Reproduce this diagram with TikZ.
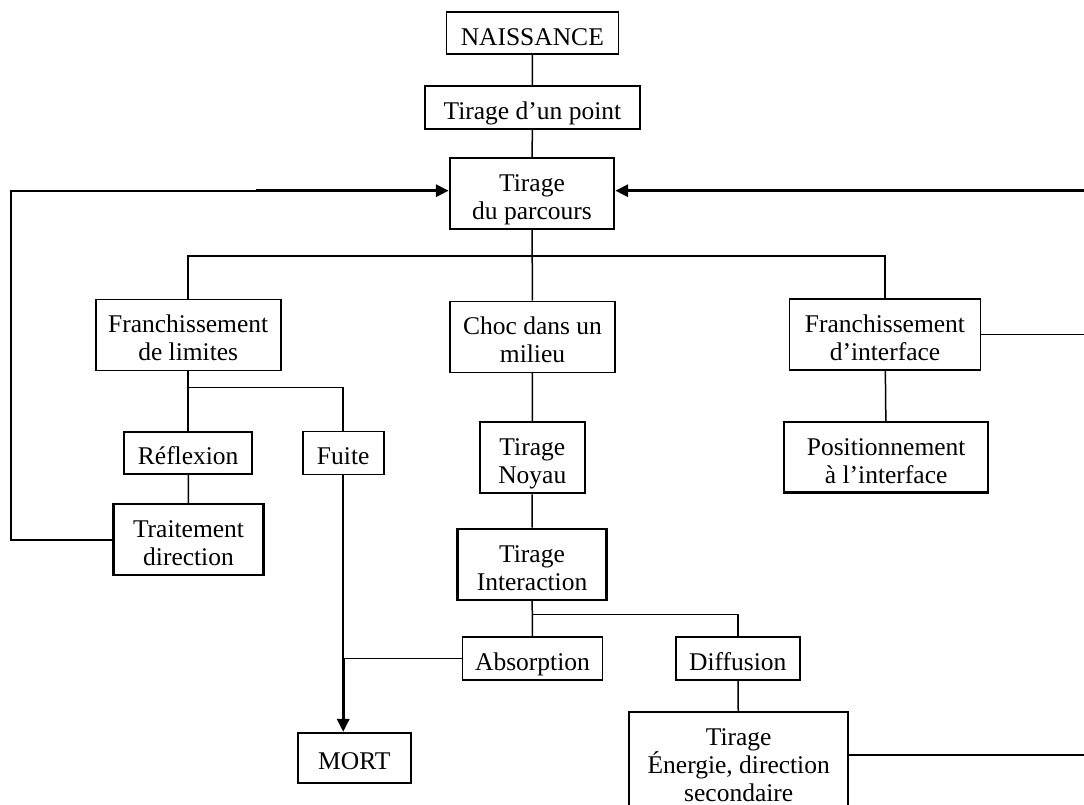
\documentclass[tikz,border=0pt]{standalone}
\usepackage{fontspec}
\setmainfont{Liberation Serif}
\usetikzlibrary{arrows.meta}
\newcommand{\lh}{\rule{0pt}{29.9pt}}
\newcommand{\lb}{\rule[-6pt]{0pt}{6pt}}

\begin{document}
\begin{tikzpicture}[x=1pt,y=-1pt,
	boite/.style={draw,line width=1.6pt,align=center,inner sep=3pt,font=\fontsize{25.5}{28.3}\selectfont},
	boiteE/.style={boite,line width=2.4pt},
	lien/.style={line width=1.5pt},
	fleche/.style={line width=3.2pt,-{Triangle[length=13pt,width=12pt]}}]
	\useasboundingbox (0,0) rectangle (1084,805);
	\clip (0,0) rectangle (1084,805);
	% colonne centrale
	\node[boite,minimum width=172,minimum height=42] (naissance) at (532.3,33.3) {\lh NAISSANCE\lb};
	\node[boiteE,minimum width=215,minimum height=43] (point) at (532.4,107.5) {\lh Tirage d’un point\lb};
	\node[boiteE,minimum width=164,minimum height=71] (parcours) at (532,193.5) {\lh Tirage\\du parcours\lb};
	\node[boite,minimum width=165,minimum height=71] (choc) at (532.5,336.8) {\lh Choc dans un\\milieu\lb};
	\node[boiteE,minimum width=105,minimum height=71] (noyau) at (532.3,457.7) {\lh Tirage\\Noyau\lb};
	\node[boiteE,minimum width=149,minimum height=71] (interaction) at (532,564.2) {\lh Tirage\\Interaction\lb};
	\node[boite,minimum width=140,minimum height=43] (absorption) at (532.5,658.7) {\lh Absorption\lb};
	\node[boite,minimum width=124,minimum height=43] (diffusion) at (737.8,658.7) {\lh Diffusion\lb};
	\node[boiteE,anchor=north,minimum width=219] (energie) at (738.7,711) {\lh Tirage\\Énergie, direction\\secondaire\lb};
	% branche gauche
	\node[boite,minimum width=185,minimum height=71] (limites) at (188.2,334.8) {\lh Franchissement\\de limites\lb};
	\node[boite,minimum width=128,minimum height=42] (reflexion) at (188.2,452.7) {\lh Réflexion\lb};
	\node[boite,minimum width=81,minimum height=43] (fuite) at (343.2,453) {\lh Fuite\lb};
	\node[boiteE,minimum width=150,minimum height=71] (traitement) at (188.5,539.7) {\lh Traitement\\direction\lb};
	\node[boite,minimum width=113,minimum height=50] (mort) at (354.3,757.7) {\lh MORT\lb};
	% branche droite
	\node[boite,minimum width=191,minimum height=71] (interface) at (885,334.5) {\lh Franchissement\\d’interface\lb};
	\node[boiteE,minimum width=204,minimum height=70] (position) at (886.2,457.2) {\lh Positionnement\\à l’interface\lb};

	\coordinate (brancheP) at (532,256);
	\coordinate (brancheL) at (188.2,387.7);
	\coordinate (brancheI) at (532,614.3);
	\coordinate (retourG) at (11,190.7);
	\coordinate (flecheG) at (256,190.7);
	\coordinate (bordH) at (1084,190.7);
	\coordinate (jonction) at (fuite.south |- absorption.west);
	\coordinate (sortieE) at ([yshift=-44pt]energie.north east);

	\draw[lien] (naissance) -- (point);
	\draw[lien] (point) -- (parcours);
	\draw[lien] (parcours) -- (choc);
	\draw[lien] (limites.north) |- (brancheP) -| (interface.north);
	\draw[lien] (choc) -- (noyau);
	\draw[lien] (noyau) -- (interaction);
	\draw[lien] (interaction) -- (absorption);
	\draw[lien] (brancheI) -| (diffusion.north);
	\draw[lien] (diffusion) -- (energie);
	\draw[lien] (limites) -- (reflexion);
	\draw[lien] (brancheL) -| (fuite.north);
	\draw[lien] (reflexion) -- (traitement);
	\draw[lien] (interface) -- (position);
	\draw[lien] (fuite.south) -- (jonction);
	\draw[lien] (absorption.west) -- (jonction);
	\draw[fleche] (jonction) -- (jonction |- mort.north);
	% retours vers le tirage du parcours
	\draw[lien,line width=1.8pt] (traitement.west) -| (retourG) -- (flecheG);
	\draw[fleche] (flecheG) -- (flecheG -| parcours.west);
	\draw[fleche] (bordH) -- (bordH -| parcours.east);
	\draw[lien] (interface.east) -- (interface.east -| bordH);
	\draw[lien] (sortieE) -- (sortieE -| bordH);
\end{tikzpicture}
\end{document}
